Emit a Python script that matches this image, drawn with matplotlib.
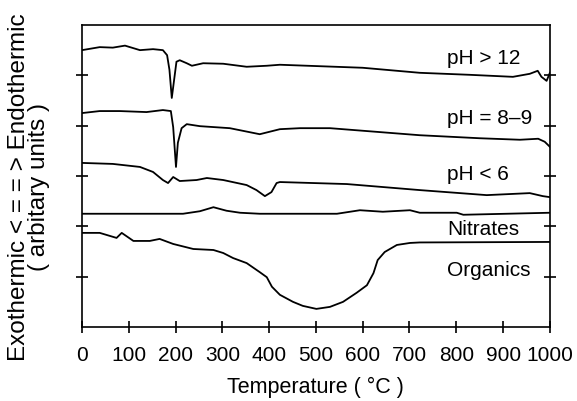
import numpy as np
import matplotlib.pyplot as plt

plt.rcParams['font.family'] = ['Liberation Sans', 'DejaVu Sans']

# DTA traces (temperature in degC, arbitrary signal)
t_ph12 = [0, 38, 66, 92, 124, 152, 173, 182, 187, 192, 197, 202, 209, 224, 235, 259,
          302, 352, 395, 423, 600, 722, 829, 921, 957, 974, 982, 993, 1000]
y_ph12 = [5.50, 5.56, 5.55, 5.59, 5.50, 5.52, 5.50, 5.40, 5.11, 4.55, 4.91, 5.27,
          5.30, 5.24, 5.19, 5.24, 5.23, 5.17, 5.19, 5.21, 5.15, 5.05, 5.01, 4.97,
          5.03, 5.09, 4.97, 4.89, 5.05]

t_ph89 = [0, 38, 81, 138, 173, 190, 195, 201, 205, 213, 224, 252, 316, 380, 423,
          466, 530, 722, 850, 936, 975, 989, 1000]
y_ph89 = [4.25, 4.29, 4.29, 4.27, 4.31, 4.29, 3.97, 3.18, 3.66, 3.95, 4.03, 3.99,
          3.95, 3.83, 3.93, 3.95, 3.95, 3.81, 3.75, 3.72, 3.74, 3.68, 3.58]

t_ph6 = [0, 66, 124, 152, 173, 184, 195, 209, 245, 267, 302, 352, 373, 391, 405,
         416, 423, 566, 722, 865, 957, 985, 1000]
y_ph6 = [3.26, 3.24, 3.18, 3.08, 2.92, 2.86, 2.98, 2.90, 2.92, 2.96, 2.92, 2.82,
         2.72, 2.60, 2.68, 2.86, 2.88, 2.84, 2.72, 2.62, 2.66, 2.60, 2.58]

t_nit = [0, 216, 252, 281, 309, 338, 380, 545, 573, 594, 643, 701, 722, 801, 815, 1000]
y_nit = [2.25, 2.25, 2.30, 2.38, 2.31, 2.27, 2.25, 2.25, 2.29, 2.32, 2.29, 2.32,
         2.27, 2.27, 2.23, 2.27]

t_org = [0, 38, 74, 85, 110, 145, 166, 195, 238, 281, 302, 323, 352, 380, 395, 406,
         423, 451, 472, 501, 530, 558, 587, 609, 623, 632, 647, 673, 701, 722, 1000]
y_org = [1.87, 1.87, 1.77, 1.87, 1.71, 1.71, 1.75, 1.65, 1.55, 1.53, 1.47, 1.37,
         1.27, 1.09, 0.99, 0.80, 0.64, 0.50, 0.42, 0.36, 0.40, 0.50, 0.68, 0.83,
         1.07, 1.33, 1.49, 1.63, 1.67, 1.68, 1.69]

labels = ['pH > 12', 'pH = 8\u20139', 'pH < 6', 'Nitrates', 'Organics']
label_y = [5.34, 4.15, 3.02, 1.93, 1.13]

fig = plt.figure(figsize=(5.77, 4.01), dpi=100)
ax = fig.add_axes([0.142, 0.1845, 0.811, 0.7532])

for t, y in [(t_ph12, y_ph12), (t_ph89, y_ph89), (t_ph6, y_ph6),
             (t_nit, y_nit), (t_org, y_org)]:
    ax.plot(t, y, color='black', lw=1.3, solid_joinstyle='round')

for lab, ly in zip(labels, label_y):
    ax.text(780, ly, lab, fontsize=15, va='center', ha='left')

ax.set_xlim(0, 1000)
ax.set_ylim(0, 6)
ax.set_xticks(np.arange(0, 1001, 100))
ax.set_yticks([1, 2, 3, 4, 5])
ax.set_yticklabels([])
ax.tick_params(axis='x', direction='inout', length=9, width=1.2, labelsize=15, pad=9)
ax.tick_params(axis='y', direction='inout', length=8, width=1.2, right=True)
for s in ax.spines.values():
    s.set_linewidth(1.2)

ax.set_xlabel('Temperature ( \u00b0C )', fontsize=15.5, labelpad=9)
ax.set_ylabel('Exothermic < = = > Endothermic\n( arbitary units )', fontsize=17.5,
              linespacing=0.9)
ax.yaxis.set_label_coords(-0.068, 0.464)

plt.savefig('out.png', dpi=100)
